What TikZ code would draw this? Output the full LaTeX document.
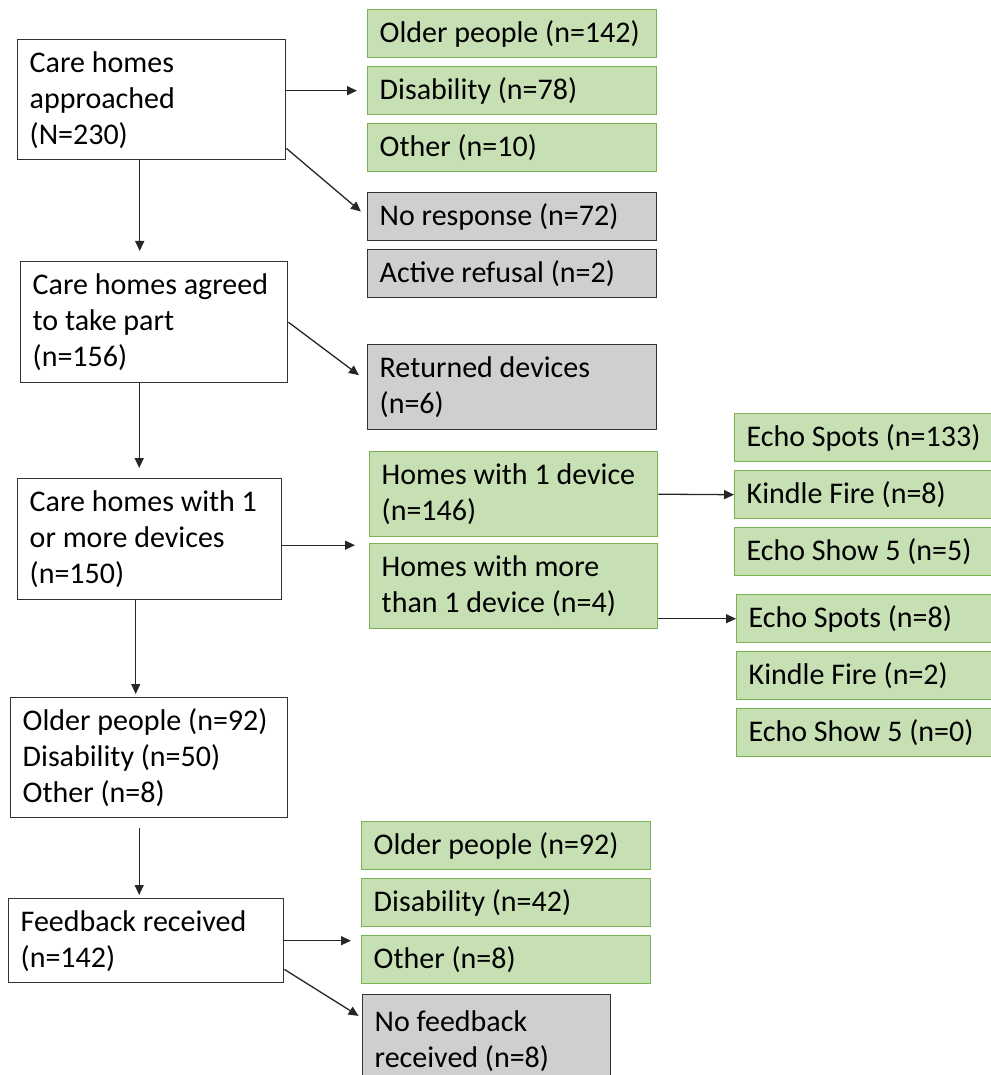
\documentclass[tikz,border=0pt]{standalone}
\usepackage{fontspec}
\setmainfont{Carlito}
\usetikzlibrary{arrows.meta,positioning}
\definecolor{boxgreen}{RGB}{198,224,180}
\definecolor{edgegreen}{RGB}{122,180,82}
\definecolor{boxgrey}{RGB}{208,206,206}

\tikzset{
  basebox/.style={anchor=north west, align=left, inner xsep=12pt, inner ysep=0pt,
    line width=1.4pt, font=\fontsize{30}{36}\selectfont,
    execute at begin node={\spaceskip=0pt\xspaceskip=0pt\rightskip=0pt plus 1fil}},
  whitebox/.style={basebox, draw=black!80, fill=white},
  greenbox/.style={basebox, draw=edgegreen, fill=boxgreen, text width=265pt, minimum height=48pt},
  greybox/.style={basebox, draw=black!80, fill=boxgrey, text width=265pt, minimum height=48pt},
  echobox/.style={greenbox, inner xsep=12pt, text width=240pt},
  link/.style={-{Triangle[length=10pt,width=9pt]}, line width=1.3pt, black!85},
}

\begin{document}
\begin{tikzpicture}[x=1pt, y=-1pt]
    \useasboundingbox (0,0) rectangle (990,1075);

    % main column
    \node[whitebox, text width=244pt, minimum height=120pt] (approached) at (17,39)
        {Care homes\\approached\\(N=230)};
    \node[whitebox, text width=243pt, minimum height=121pt] (agreed) at (20,261)
        {Care homes agreed\\to take part\\(n=156)};
    \node[whitebox, text width=240pt, minimum height=121pt] (devices) at (17,478)
        {Care homes with 1\\or more devices\\(n=150)};
    \node[whitebox, text width=253pt, minimum height=120pt] (types) at (10,697)
        {Older people (n=92)\\Disability (n=50)\\Other (n=8)};
    \node[whitebox, text width=251pt, minimum height=84pt] (feedback) at (8,898)
        {Feedback received\\(n=142)};

    % approached homes
    \node[greenbox] (olderA) at (367,9)   {Older people (n=142)};
    \node[greenbox] (disabA) at (367,66)  {Disability (n=78)};
    \node[greenbox] (otherA) at (367,123) {Other (n=10)};
    \node[greybox]  (noresp)  at (367,192) {No response (n=72)};
    \node[greybox]  (refusal) at (367,249) {Active refusal (n=2)};
    \node[greybox, minimum height=85pt] (returned) at (367,344) {Returned devices\\(n=6)};

    % devices
    \node[greenbox, text width=264pt, minimum height=85pt] (onedev)  at (369,451)
        {Homes with 1 device\\(n=146)};
    \node[greenbox, text width=264pt, minimum height=85pt] (moredev) at (369,543)
        {Homes with more\\than 1 device (n=4)};
    \node[echobox] (spotA)   at (734,413) {Echo Spots (n=133)};
    \node[echobox] (kindleA) at (734,470) {Kindle Fire (n=8)};
    \node[echobox] (showA)   at (734,527) {Echo Show 5 (n=5)};
    \node[echobox] (spotB)   at (736,594) {Echo Spots (n=8)};
    \node[echobox] (kindleB) at (736,651) {Kindle Fire (n=2)};
    \node[echobox] (showB)   at (736,708) {Echo Show 5 (n=0)};

    % feedback
    \node[greenbox, text width=265pt] (olderB) at (361,821) {Older people (n=92)};
    \node[greenbox, text width=265pt] (disabB) at (361,878) {Disability (n=42)};
    \node[greenbox, text width=265pt] (otherB) at (361,935) {Other (n=8)};
    \node[greybox, text width=224pt, minimum height=92pt] (nofeed) at (362,994)
        {No feedback\\received (n=8)};

    % arrows down the main column
    \draw[link, shorten >=10pt] ([xshift=-12pt]approached.south) -- ([xshift=-12pt]approached.south |- agreed.north);
    \draw[link, shorten >=10pt] ([xshift=-15pt]agreed.south) -- ([xshift=-15pt]agreed.south |- devices.north);
    \draw[link, shorten >=3pt] ([xshift=-14pt]devices.south) -- ([xshift=-14pt]devices.south |- types.north);
    \draw[link, shorten <=10pt, shorten >=3pt] ([xshift=-10pt]types.south) -- ([xshift=-10pt]types.south |- feedback.north);

    % arrows to the side
    \draw[link, shorten >=10pt] (approached.east |- disabA.west) -- (disabA.west);
    \draw[link, shorten >=8pt] ([yshift=12pt]approached.south east) -- (noresp.west);
    \draw[link, shorten >=10pt] (agreed.east) -- ([yshift=6pt]returned.west);
    \draw[link, shorten >=14pt] ([yshift=-6pt]devices.east) -- ([yshift=-6pt]devices.east -| moredev.west);
    \draw[link] (onedev.east) -- (kindleA.west);
    \draw[link] (moredev.east |- spotB.west) -- (spotB.west);
    \draw[link, shorten >=10pt] (feedback.east) -- (feedback.east -| otherB.west);
    \draw[link, shorten >=4pt] ([yshift=14pt]feedback.south east) -- ([yshift=-24pt]nofeed.north west);
\end{tikzpicture}
\end{document}
